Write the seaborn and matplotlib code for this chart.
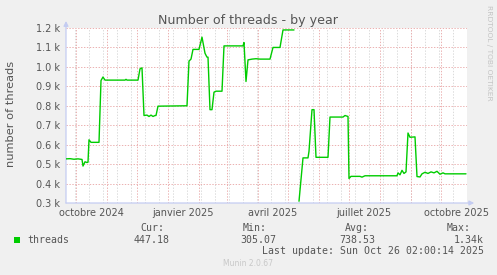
import matplotlib
matplotlib.use("Agg")
import matplotlib.pyplot as plt
import matplotlib.dates as mdates
import matplotlib.ticker as mticker
from matplotlib.patches import Rectangle
import numpy as np
import pandas as pd
import seaborn as sns

# ---------------- data ----------------
dates = [
    "2024-09-21", "2024-09-25", "2024-09-29", "2024-10-03", "2024-10-07", "2024-10-08",
    "2024-10-10", "2024-10-12", "2024-10-13", "2024-10-14", "2024-10-16", "2024-10-24",
    "2024-10-26", "2024-10-28", "2024-10-30", "2024-11-19", "2024-11-20", "2024-11-21",
    "2024-12-02", "2024-12-04", "2024-12-06", "2024-12-08", "2024-12-11", "2024-12-13",
    "2024-12-15", "2024-12-17", "2024-12-19", "2024-12-20", "2024-12-22", "2025-01-20",
    "2025-01-22", "2025-01-24", "2025-01-26", "2025-02-01", "2025-02-04", "2025-02-07",
    "2025-02-09", "2025-02-10", "2025-02-12", "2025-02-14", "2025-02-16", "2025-02-18",
    "2025-02-24", "2025-02-26", "2025-03-07", "2025-03-17", "2025-03-18", "2025-03-20",
    "2025-03-22", "2025-03-26", "2025-03-30", "2025-04-03", "2025-04-13", "2025-04-16",
    "2025-04-23", "2025-04-26", "2025-05-07", "2025-05-09", "2025-05-12", "2025-05-16",
    "2025-05-21", "2025-05-22", "2025-05-25", "2025-05-27", "2025-05-29", "2025-06-05",
    "2025-06-10", "2025-06-12", "2025-06-25", "2025-06-27", "2025-06-30", "2025-07-01",
    "2025-07-03", "2025-07-12", "2025-07-14", "2025-07-17", "2025-08-18", "2025-08-19",
    "2025-08-21", "2025-08-23", "2025-08-25", "2025-08-27", "2025-08-29", "2025-08-31",
    "2025-09-05", "2025-09-07", "2025-09-10", "2025-09-12", "2025-09-15", "2025-09-18",
    "2025-09-21", "2025-09-24", "2025-09-27", "2025-09-30", "2025-10-03", "2025-10-05",
    "2025-10-26",
]
threads = [
    527, 528, 525, 527, 524, 490,
    512, 508, 510, 625, 612, 612,
    930, 948, 932, 932, 936, 932,
    932, 990, 995, 750, 752, 745,
    752, 745, 750, 750, 798, 800,
    1030, 1040, 1090, 1090, 1153, 1070,
    1050, 1050, 780, 780, 870, 875,
    875, 1108, 1108, 1108, 1125, 925,
    1036, 1040, 1042, 1040, 1040, 1100,
    1100, 1190, 1190, None, 309, 532,
    532, 566, 780, 780, 535, 535,
    535, 742, 742, 750, 745, 426,
    437, 437, 433, 440, 440, 455,
    445, 468, 452, 460, 660, 638,
    640, 436, 434, 450, 458, 452,
    460, 455, 463, 448, 455, 450,
    450,
]

title = "Number of threads - by year"
y_label = "number of threads"
x_start, x_end = "2024-09-21", "2025-10-27"
x_tick_dates = ["2024-10-16", "2025-01-16", "2025-04-16", "2025-07-16", "2025-10-16"]
x_tick_labels = ["octobre 2024", "janvier 2025", "avril 2025", "juillet 2025", "octobre 2025"]
y_ticks = [300, 400, 500, 600, 700, 800, 900, 1000, 1100, 1200]
series_name = "threads"
stat_headers = ["Cur:", "Min:", "Avg:", "Max:"]
stat_values = ["447.18", "305.07", "738.53", "1.34k"]
last_update = "Last update: Sun Oct 26 02:00:14 2025"
footer = "Munin 2.0.67"
side_text = "RRDTOOL / TOBI OETIKER"

# ---------------- styling ----------------
W, H = 497, 275
BG = "#f0f0f0"
TXT = "#555555"
GREEN = "#00cc00"
MGRID = "#ebb0b0"
MINGRID = "#dadada"
AXISC = "#c4ccf2"

sns.set_style("white")
plt.rcParams["font.family"] = ["DejaVu Sans"]

def fx(px):
    return px / W

def fy(py):
    return 1 - py / H

fig = plt.figure(figsize=(W / 100, H / 100), dpi=100, facecolor=BG)
ax = fig.add_axes([fx(66), fy(203), (467 - 66) / W, (203 - 28) / H])
ax.set_facecolor("white")

df = pd.DataFrame({"date": pd.to_datetime(dates), "threads": pd.array(threads, dtype="Float64")})
df["threads"] = df["threads"].astype(float)
df["segment"] = df["threads"].isna().cumsum()
df = df.dropna()

sns.lineplot(data=df, x="date", y="threads", units="segment", estimator=None,
             color=GREEN, lw=1.0, ax=ax, legend=False, zorder=5)

ax.set_xlim(pd.Timestamp(x_start), pd.Timestamp(x_end))
ax.set_ylim(y_ticks[0], y_ticks[-1])

# grids
ax.set_axisbelow(True)
two_weeks = pd.date_range("2024-09-30", x_end, freq="14D")
for d in two_weeks:
    ax.axvline(d, color=MINGRID, lw=0.7, ls=(0, (1.4, 1.6)), zorder=0.5)

ax.xaxis.set_minor_locator(mdates.MonthLocator())
ax.xaxis.set_major_locator(mticker.FixedLocator(mdates.date2num(pd.to_datetime(x_tick_dates))))
ax.xaxis.set_major_formatter(mticker.FixedFormatter(x_tick_labels))
ax.yaxis.set_major_locator(mticker.FixedLocator(y_ticks))
ax.yaxis.set_major_formatter(mticker.FuncFormatter(lambda v, p: f"{v/1000:.1f} k"))

ax.grid(False)
ax.grid(which="minor", axis="x", color=MGRID, lw=0.7, ls=(0, (1.4, 1.6)), zorder=1)
ax.grid(which="major", axis="y", color=MGRID, lw=0.7, ls=(0, (1.4, 1.6)), zorder=1)

ax.tick_params(axis="x", which="major", length=0, pad=3.5, labelsize=7, labelcolor=TXT)
ax.tick_params(axis="x", which="minor", length=2, width=0.7, color=MGRID, direction="out")
ax.tick_params(axis="y", which="major", length=0, pad=4.5, labelsize=7, labelcolor=TXT)

for s in ax.spines.values():
    s.set_visible(False)

ax.set_xlabel("")
ax.set_ylabel(y_label, fontsize=8.2, color=TXT, va="center")
ax.yaxis.set_label_coords((11 - 66) / 401, (203 - 114) / 175)

# axis arrows
arrow_kw = dict(arrowstyle="-|>", color=AXISC, lw=0.9, mutation_scale=7, shrinkA=0, shrinkB=0)
ax.annotate("", xy=(0, 1.04), xytext=(0, 0), xycoords="axes fraction",
            arrowprops=arrow_kw, annotation_clip=False)
ax.annotate("", xy=(1.018, 0), xytext=(0, 0), xycoords="axes fraction",
            arrowprops=arrow_kw, annotation_clip=False)

# title
fig.text(fx(248.5), fy(24), title, ha="center", va="baseline", fontsize=9.1, color=TXT)

# side text
fig.text(fx(489), fy(53), side_text, rotation=270, ha="center", va="center",
         fontsize=5.4, color="#c4c4c4")

# legend block
mono = "DejaVu Sans Mono"
fig.patches.append(Rectangle((fx(14), fy(243)), 6 / W, 6 / H, transform=fig.transFigure,
                             facecolor=GREEN, edgecolor="none"))
fig.text(fx(27), fy(243), series_name, family=mono, fontsize=7.1, color=TXT, va="baseline")

header_x = [140, 243, 345, 447]
value_right = [170, 276, 375, 484]
for hx, h in zip(header_x, stat_headers):
    fig.text(fx(hx), fy(231), h, family=mono, fontsize=7.1, color=TXT, va="baseline", ha="left")
for vx, v in zip(value_right, stat_values):
    fig.text(fx(vx), fy(243), v, family=mono, fontsize=7.1, color=TXT, va="baseline", ha="right")
fig.text(fx(484), fy(254), last_update, family=mono, fontsize=7.1, color=TXT,
         va="baseline", ha="right")
fig.text(fx(248), fy(264), footer, fontsize=5.5, color="#c8c8c8", ha="center", va="center")

fig.savefig("out.png", dpi=100, facecolor=BG)
